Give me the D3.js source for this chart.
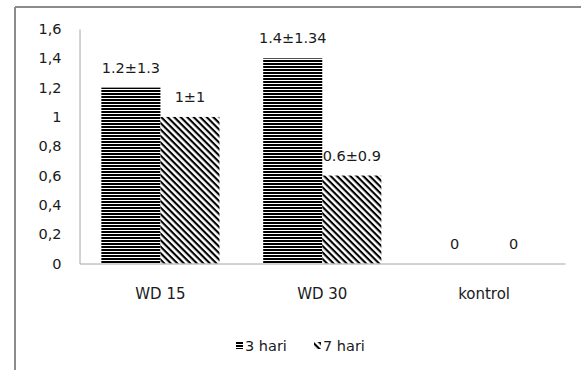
<!DOCTYPE html>
<html>
<head>
<meta charset="utf-8">
<script src="https://cdn.jsdelivr.net/npm/d3@7"></script>
<style>
  html, body { margin: 0; padding: 0; background: #fff; }
  svg { display: block; }
  text { font-family: "DejaVu Sans", sans-serif; fill: #1a1a1a; }
</style>
</head>
<body>
<svg id="chart" width="581" height="370"></svg>
<script>
// Treatment groups and observation days
const categories = ["WD 15", "WD 30", "kontrol"];
const seriesNames = ["3 hari", "7 hari"];
const values3 = [1.2, 1.4, 0];
const values7 = [1, 0.6, 0];
const labels3 = ["1.2±1.3", "1.4±1.34", "0"];
const labels7 = ["1±1", "0.6±0.9", "0"];
const yTicks = [0, 0.2, 0.4, 0.6, 0.8, 1, 1.2, 1.4, 1.6];

const svg = d3.select("#chart");

// Pattern fills: horizontal stripes and wide downward diagonals
const defs = svg.append("defs");
const pH = defs.append("pattern").attr("id", "pat-h")
  .attr("patternUnits", "userSpaceOnUse").attr("width", 8).attr("height", 3);
pH.append("rect").attr("width", 8).attr("height", 3).attr("fill", "#fff");
pH.append("rect").attr("width", 8).attr("height", 2).attr("fill", "#000");

const pD = defs.append("pattern").attr("id", "pat-d")
  .attr("patternUnits", "userSpaceOnUse").attr("width", 4.6).attr("height", 4.6)
  .attr("patternTransform", "rotate(45)");
pD.append("rect").attr("width", 4.6).attr("height", 4.6).attr("fill", "#fff");
pD.append("rect").attr("width", 4.6).attr("height", 2.1).attr("fill", "#000");

// Outer frame (top and left edges visible)
svg.append("line").attr("x1", 15).attr("x2", 581).attr("y1", 7).attr("y2", 7)
  .attr("stroke", "#8c8c8c").attr("stroke-width", 2);
svg.append("line").attr("x1", 15).attr("x2", 15).attr("y1", 7).attr("y2", 370)
  .attr("stroke", "#8c8c8c").attr("stroke-width", 2);

const plot = { left: 79.5, right: 565, top: 29, bottom: 263.5 };

const x = d3.scaleBand().domain(categories)
  .range([plot.left, plot.right]).paddingInner(0.27).paddingOuter(0.135);
const y = d3.scaleLinear().domain([0, 1.6]).range([plot.bottom, plot.top]);

const bw = x.bandwidth() / 2;
const series = [
  { name: seriesNames[0], vals: values3, labels: labels3, fill: "url(#pat-h)", off: 0 },
  { name: seriesNames[1], vals: values7, labels: labels7, fill: "url(#pat-d)", off: 1 }
];

// Bars
series.forEach(s => {
  svg.append("g").selectAll("rect").data(categories).join("rect")
    .attr("x", (c) => x(c) + s.off * bw)
    .attr("y", (c, i) => y(s.vals[i]))
    .attr("width", bw)
    .attr("height", (c, i) => y(0) - y(s.vals[i]))
    .attr("fill", s.fill);
});

// Value labels
series.forEach(s => {
  svg.append("g").selectAll("text").data(categories).join("text")
    .attr("x", (c) => x(c) + s.off * bw + bw / 2)
    .attr("y", (c, i) => y(s.vals[i]) - 15)
    .attr("text-anchor", "middle")
    .attr("font-size", 14.5)
    .text((c, i) => s.labels[i]);
});

// Y axis
const yAxis = svg.append("g").attr("transform", `translate(${plot.left},0)`)
  .call(d3.axisLeft(y).tickValues(yTicks).tickSize(0).tickPadding(18)
    .tickFormat(d => d3.format("")(d).replace(".", ",")));
yAxis.select(".domain").attr("stroke", "#a6a6a6");
yAxis.selectAll("text").attr("font-size", 14.5).attr("font-family", "DejaVu Sans").attr("fill", "#1a1a1a");

// X axis
const xAxis = svg.append("g").attr("transform", `translate(0,${plot.bottom})`)
  .call(d3.axisBottom(x).tickSize(0).tickPadding(25));
xAxis.select(".domain").attr("stroke", "#a6a6a6");
xAxis.selectAll("text").attr("font-size", 15).attr("font-family", "DejaVu Sans").attr("fill", "#1a1a1a");

// Legend
const legend = svg.append("g").attr("transform", "translate(236,342)");
const legendItems = [
  { name: seriesNames[0], fill: "url(#pat-h)", dx: 0 },
  { name: seriesNames[1], fill: "url(#pat-d)", dx: 78 }
];
legendItems.forEach(it => {
  const g = legend.append("g").attr("transform", `translate(${it.dx},0)`);
  g.append("rect").attr("x", 0).attr("y", 0).attr("width", 7).attr("height", 7).attr("fill", it.fill);
  g.append("text").attr("x", 9).attr("y", 9).attr("font-size", 14.5).text(it.name);
});
</script>
</body>
</html>
